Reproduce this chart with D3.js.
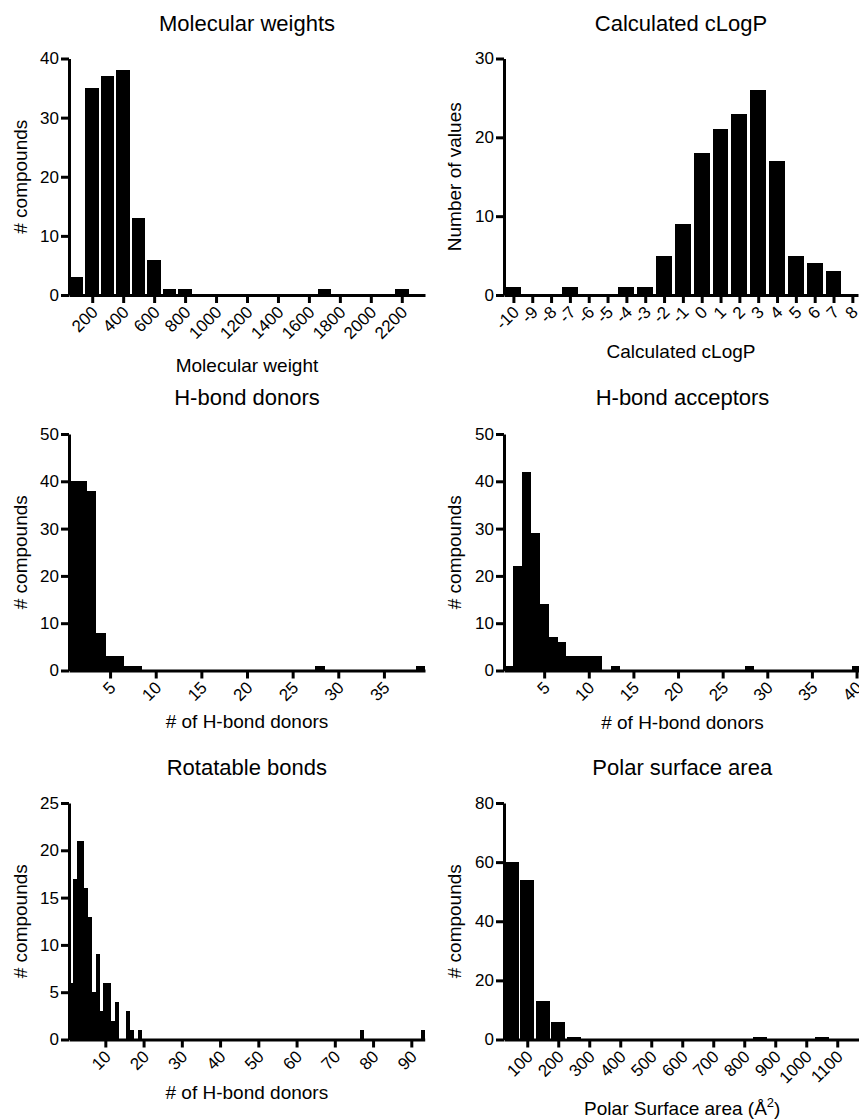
<!DOCTYPE html>
<html>
<head>
<meta charset="utf-8">
<script src="https://cdn.jsdelivr.net/npm/d3@7"></script>
<style>
body { margin: 0; background: #fff; }
svg { font-family: Arial, "Liberation Sans", Helvetica, sans-serif; }
.axis path, .axis line { stroke: #000; stroke-width: 3; }
.axis text { font-size: 17px; fill: #000; }
.title { font-size: 22px; }
.label { font-size: 19px; }
rect { shape-rendering: crispEdges; }
</style>
</head>
<body>
<div id="chart"></div>
<script>
// bin centres (only non-empty bins) and counts
var mwBins = [100, 200, 300, 400, 500, 600, 700, 800, 1700, 2200];
var mwCounts = [3, 35, 37, 38, 13, 6, 1, 1, 1, 1];
var mwTicks = [200, 400, 600, 800, 1000, 1200, 1400, 1600, 1800, 2000, 2200];

var logpBins = [-10, -7, -4, -3, -2, -1, 0, 1, 2, 3, 4, 5, 6, 7];
var logpCounts = [1, 1, 1, 1, 5, 9, 18, 21, 23, 26, 17, 5, 4, 3];
var logpTicks = [-10, -9, -8, -7, -6, -5, -4, -3, -2, -1, 0, 1, 2, 3, 4, 5, 6, 7, 8];

var donorBins = [1, 2, 3, 4, 5, 6, 7, 8, 28, 39];
var donorCounts = [40, 40, 38, 8, 3, 3, 1, 1, 1, 1];
var donorTicks = [5, 10, 15, 20, 25, 30, 35];

var acceptorBins = [1, 2, 3, 4, 5, 6, 7, 8, 9, 10, 11, 13, 28, 40];
var acceptorCounts = [1, 22, 42, 29, 14, 7, 6, 3, 3, 3, 3, 1, 1, 1];
var acceptorTicks = [5, 10, 15, 20, 25, 30, 35, 40];

var rotBins = [1, 2, 3, 4, 5, 6, 7, 8, 9, 10, 11, 12, 13, 16, 17, 19, 77, 93];
var rotCounts = [6, 17, 21, 21, 16, 13, 5, 9, 3, 6, 6, 2, 4, 3, 1, 1, 1, 1];
var rotTicks = [10, 20, 30, 40, 50, 60, 70, 80, 90];

var psaBins = [50, 100, 150, 200, 250, 850, 1050];
var psaCounts = [60, 54, 13, 6, 1, 1, 1];
var psaTicks = [100, 200, 300, 400, 500, 600, 700, 800, 900, 1000, 1100];

var svg = d3.select("#chart").append("svg")
	.attr("width", 859)
	.attr("height", 1120);

function histogram(p) {
	var x = d3.scaleLinear().domain(p.xDomain).range([p.left, p.right]);
	var y = d3.scaleLinear().domain([0, p.yMax]).range([p.bottom, p.top]);
	var g = svg.append("g");

	// bars
	g.selectAll("rect")
	.data(p.bins)
	.enter().append("rect")
	.attr("x", function(d) { return x(d - p.binWidth / 2) + p.gap / 2; })
	.attr("width", x(p.xDomain[0] + p.binWidth) - x(p.xDomain[0]) - p.gap)
	.attr("y", function(d, i) { return y(p.counts[i]); })
	.attr("height", function(d, i) { return p.bottom - y(p.counts[i]); })
	.attr("fill", "#000");

	// x axis, labels rotated
	g.append("g")
	.attr("class", "axis")
	.attr("transform", "translate(0," + p.bottom + ")")
	.call(d3.axisBottom(x).tickValues(p.ticks).tickSize(8).tickSizeOuter(0)
		.tickFormat(function(d) { return String(d); }))
	.selectAll("text")
	.attr("x", 0)
	.attr("y", 0)
	.attr("dy", "0.35em")
	.style("text-anchor", "end")
	.attr("transform", "translate(2,14) rotate(-45)");

	// y axis
	g.append("g")
	.attr("class", "axis")
	.attr("transform", "translate(" + p.left + ",0)")
	.call(d3.axisLeft(y).tickValues(p.yTicks).tickSize(8).tickPadding(2).tickSizeOuter(0));

	// title and axis labels
	g.append("text")
	.attr("class", "title")
	.attr("x", (p.left + p.right) / 2)
	.attr("y", p.titleY)
	.attr("text-anchor", "middle")
	.text(p.title);

	var xl = g.append("text")
	.attr("class", "label")
	.attr("x", (p.left + p.right) / 2)
	.attr("y", p.xLabelY)
	.attr("text-anchor", "middle")
	.text(p.xLabel);
	if (p.sup) {
		xl.append("tspan").attr("font-size", 13).attr("dy", -8).text(p.sup);
		xl.append("tspan").attr("dy", 8).text(")");
	}

	g.append("text")
	.attr("class", "label")
	.attr("transform", "translate(" + p.yLabelX + "," + ((p.top + p.bottom) / 2) + ") rotate(-90)")
	.attr("text-anchor", "middle")
	.text(p.yLabel);
}

histogram({
	bins: mwBins, counts: mwCounts, ticks: mwTicks, binWidth: 100, gap: 2,
	xDomain: [50, 2350], left: 69, right: 425,
	yMax: 40, yTicks: [0, 10, 20, 30, 40], top: 58.5, bottom: 295,
	title: "Molecular weights", titleY: 31, xLabel: "Molecular weight", xLabelY: 372,
	yLabel: "# compounds", yLabelX: 27
});

histogram({
	bins: logpBins, counts: logpCounts, ticks: logpTicks, binWidth: 1, gap: 3,
	xDomain: [-10.5, 8.3], left: 504, right: 858,
	yMax: 30, yTicks: [0, 10, 20, 30], top: 58.5, bottom: 295,
	title: "Calculated cLogP", titleY: 31, xLabel: "Calculated cLogP", xLabelY: 358,
	yLabel: "Number of values", yLabelX: 461
});

histogram({
	bins: donorBins, counts: donorCounts, ticks: donorTicks, binWidth: 1, gap: 0,
	xDomain: [0.5, 39.5], left: 69, right: 425,
	yMax: 50, yTicks: [0, 10, 20, 30, 40, 50], top: 434, bottom: 670.5,
	title: "H-bond donors", titleY: 405, xLabel: "# of H-bond donors", xLabelY: 728,
	yLabel: "# compounds", yLabelX: 27
});

histogram({
	bins: acceptorBins, counts: acceptorCounts, ticks: acceptorTicks, binWidth: 1, gap: 0,
	xDomain: [0.5, 40.5], left: 504, right: 861,
	yMax: 50, yTicks: [0, 10, 20, 30, 40, 50], top: 434, bottom: 670.5,
	title: "H-bond acceptors", titleY: 405, xLabel: "# of H-bond donors", xLabelY: 729,
	yLabel: "# compounds", yLabelX: 461
});

histogram({
	bins: rotBins, counts: rotCounts, ticks: rotTicks, binWidth: 1, gap: 0,
	xDomain: [0.5, 93.5], left: 69, right: 424.7,
	yMax: 25, yTicks: [0, 5, 10, 15, 20, 25], top: 803, bottom: 1039.5,
	title: "Rotatable bonds", titleY: 775, xLabel: "# of H-bond donors", xLabelY: 1099,
	yLabel: "# compounds", yLabelX: 27
});

histogram({
	bins: psaBins, counts: psaCounts, ticks: psaTicks, binWidth: 50, gap: 1.2,
	xDomain: [25, 1175], left: 504, right: 860.5,
	yMax: 80, yTicks: [0, 20, 40, 60, 80], top: 803, bottom: 1039.5,
	title: "Polar surface area", titleY: 775, xLabel: "Polar Surface area (Å", sup: "2", xLabelY: 1115,
	yLabel: "# compounds", yLabelX: 461
});
</script>
</body>
</html>
